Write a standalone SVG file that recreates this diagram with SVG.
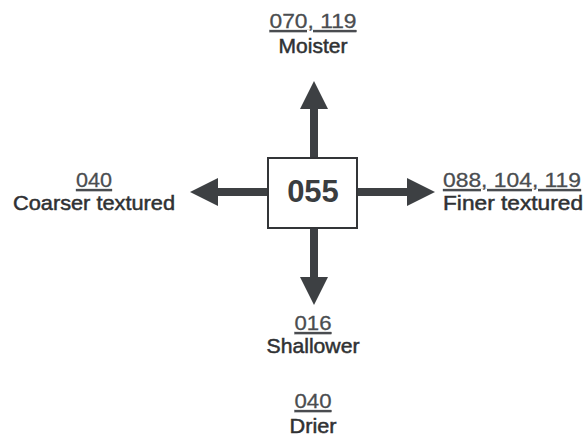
<svg xmlns="http://www.w3.org/2000/svg" width="584" height="436" viewBox="0 0 584 436">
<style>
.lbl{font-family:"Liberation Sans",Arial,sans-serif;font-size:21px;fill:#2f3133;stroke:#2f3133;stroke-width:0.5;text-anchor:middle}
.num{font-family:"Liberation Sans",Arial,sans-serif;font-size:21px;fill:#4a4d50;stroke:#4a4d50;stroke-width:0.3;text-anchor:middle;text-decoration:underline}
.conn{stroke:#3d4043;stroke-width:8;fill:none;marker-end:url(#ah)}
</style>
<defs>
<marker id="ah" viewBox="0 0 28 28" refX="0" refY="14" markerWidth="28" markerHeight="28" markerUnits="userSpaceOnUse" orient="auto">
<path d="M0,0 L28,14 L0,28 Z" fill="#3d4043"/>
</marker>
</defs>
<rect width="584" height="436" fill="#ffffff"/>
<g id="connectors">
<line class="conn" x1="314" y1="158" x2="314" y2="109"/>
<line class="conn" x1="314" y1="228" x2="314" y2="277"/>
<line class="conn" x1="268" y1="192" x2="218" y2="192"/>
<line class="conn" x1="357" y1="192" x2="407" y2="192"/>
</g>
<g id="center">
<rect x="268" y="158" width="89" height="70" fill="#ffffff" stroke="#333538" stroke-width="2"/>
<text x="313" y="202" font-family="Liberation Sans,Arial,sans-serif" font-size="31" font-weight="bold" fill="#3a3d40" text-anchor="middle">055</text>
</g>
<g id="moister">
<text class="num" x="313" y="28" textLength="87" lengthAdjust="spacingAndGlyphs">070, 119</text>
<text class="lbl" x="313" y="53" textLength="69" lengthAdjust="spacingAndGlyphs">Moister</text>
</g>
<g id="coarser">
<text class="num" x="94" y="187" textLength="36" lengthAdjust="spacingAndGlyphs">040</text>
<text class="lbl" x="94" y="210" textLength="162" lengthAdjust="spacingAndGlyphs">Coarser textured</text>
</g>
<g id="finer">
<text class="num" x="512" y="187" textLength="138" lengthAdjust="spacingAndGlyphs">088, 104, 119</text>
<text class="lbl" x="513" y="210" textLength="140" lengthAdjust="spacingAndGlyphs">Finer textured</text>
</g>
<g id="shallower">
<text class="num" x="313" y="330" textLength="37" lengthAdjust="spacingAndGlyphs">016</text>
<text class="lbl" x="313" y="353" textLength="93" lengthAdjust="spacingAndGlyphs">Shallower</text>
</g>
<g id="drier">
<text class="num" x="313" y="408" textLength="37" lengthAdjust="spacingAndGlyphs">040</text>
<text class="lbl" x="313" y="433" textLength="47" lengthAdjust="spacingAndGlyphs">Drier</text>
</g>
</svg>
